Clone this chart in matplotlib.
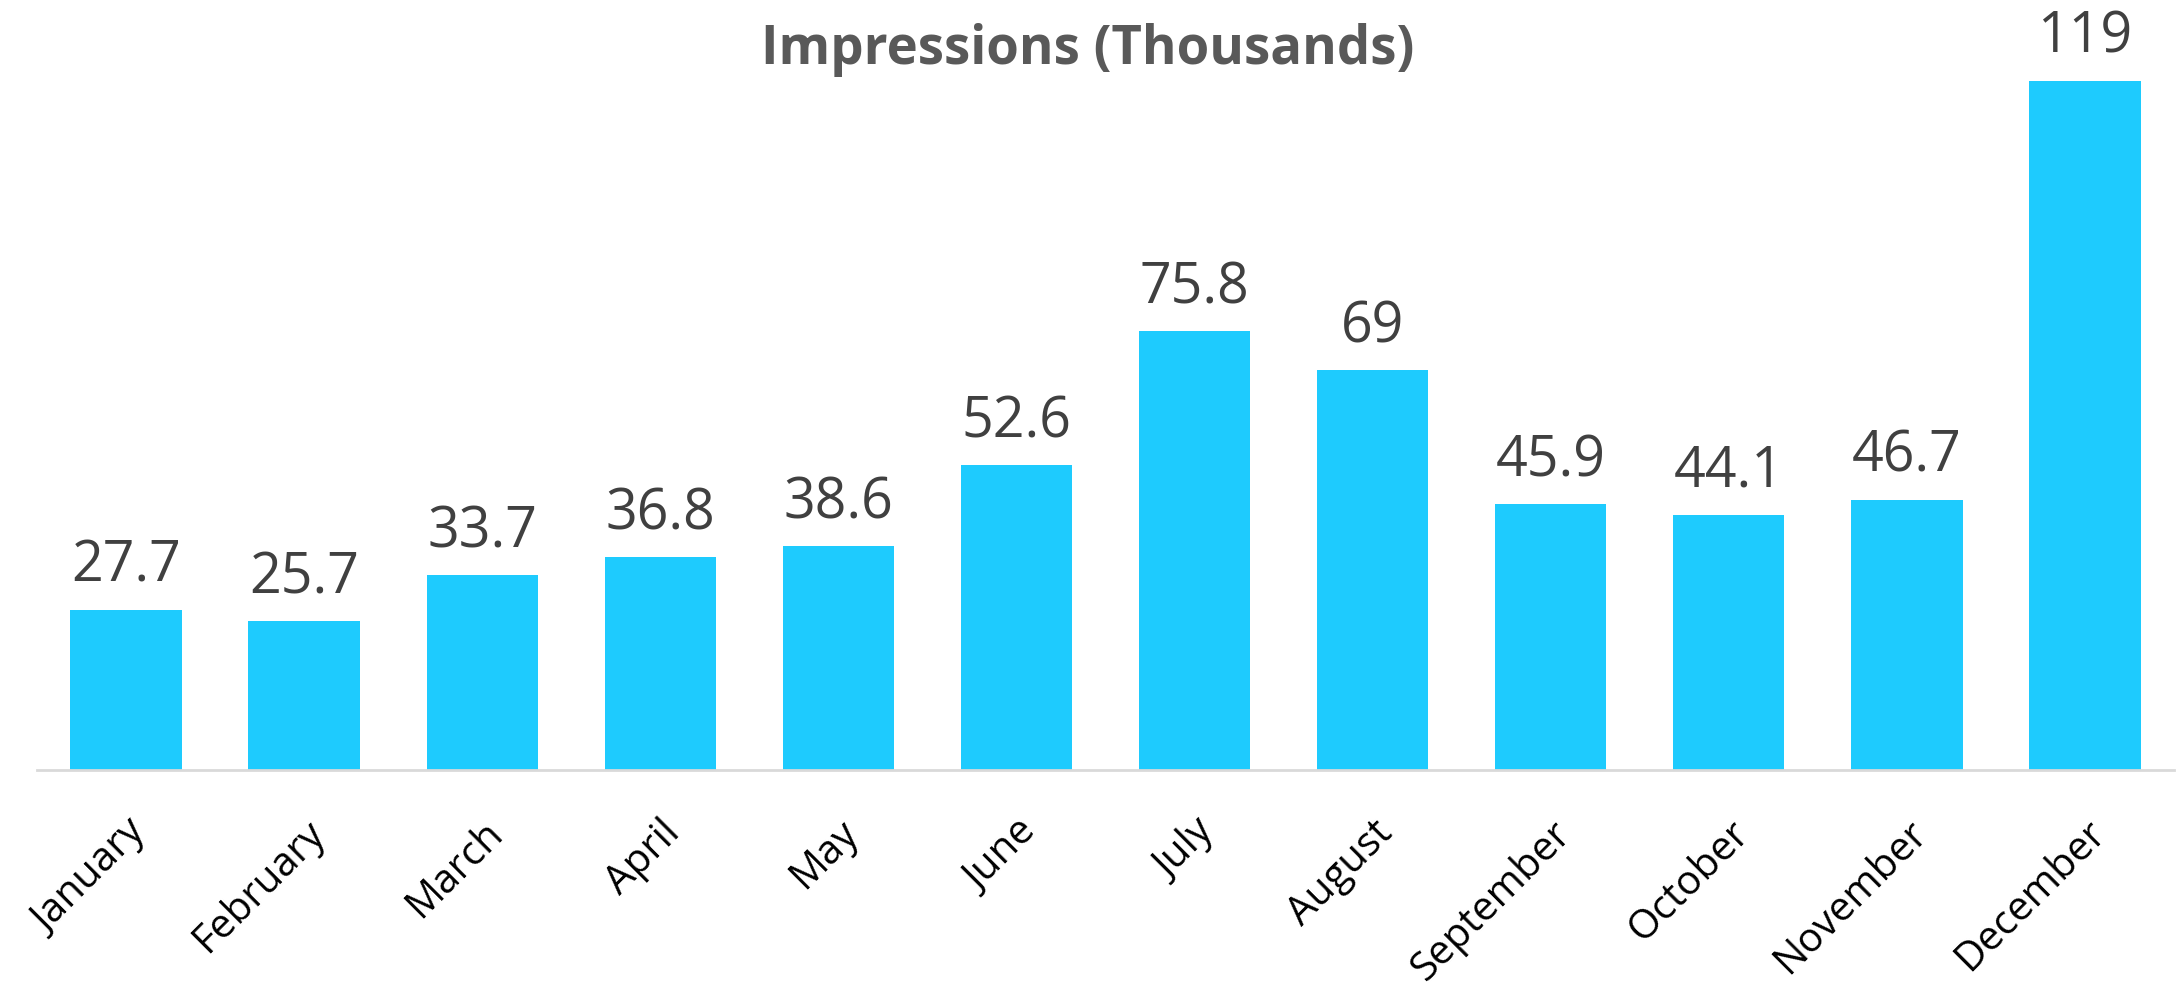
import matplotlib
matplotlib.use("Agg")
import matplotlib.pyplot as plt

months = ["January", "February", "March", "April", "May", "June", "July",
          "August", "September", "October", "November", "December"]
impressions = [27.7, 25.7, 33.7, 36.8, 38.6, 52.6, 75.8, 69, 45.9, 44.1, 46.7, 119]
title = "Impressions (Thousands)"

plt.rcParams['font.family'] = ['Open Sans', 'DejaVu Sans']

W, H, DPI = 2176, 983, 100
fig = plt.figure(figsize=(W / DPI, H / DPI), dpi=DPI)
ax = fig.add_axes([37 / W, (H - 770) / H, (2174 - 37) / W, 724 / H])

x = list(range(len(months)))
bars = ax.bar(x, impressions, width=0.625, color='#1ECBFE', zorder=2)
ax.set_xlim(-0.5, len(months) - 0.5)
ax.set_ylim(0, 125)

for xi, v in zip(x, impressions):
    ax.annotate(f"{v:g}", xy=(xi, v), xytext=(0, 20), textcoords='offset points',
                ha='center', va='baseline', fontsize=40, color='#404040')

for s in ['top', 'right', 'left']:
    ax.spines[s].set_visible(False)
ax.spines['bottom'].set_color('#D9D9D9')
ax.spines['bottom'].set_linewidth(2)
ax.set_yticks([])
ax.set_xticks(x)
ax.set_xticklabels(months, rotation=45, ha='right', rotation_mode='anchor',
                   fontsize=29, color='black')
ax.tick_params(axis='x', length=0, pad=31)

fig.text(0.5, 1 - 64 / H, title, ha='center', va='baseline', fontsize=38,
         fontweight='bold', color='#595959')

fig.savefig('out.png', dpi=DPI, facecolor='white')
